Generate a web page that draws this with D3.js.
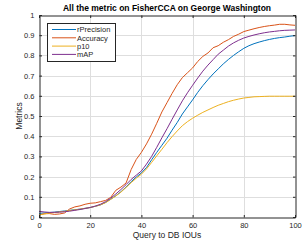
<!DOCTYPE html>
<html>
<head>
<meta charset="utf-8">
<script src="https://cdn.jsdelivr.net/npm/d3@7"></script>
<style>
  body { margin: 0; background: #fff; }
  svg { display: block; font-family: "Liberation Sans", Arial, sans-serif; }
</style>
</head>
<body>
<div id="chart"></div>
<script>
// IoU thresholds (x axis)
var iou = [0, 2, 4, 6, 8, 10, 12, 14, 16, 18, 20, 22, 24, 26, 28, 30, 32, 34, 36, 38, 40,
    42, 44, 46, 48, 50, 52, 54, 56, 58, 60, 62, 64, 66, 68, 70, 72, 74, 76, 78, 80,
    82, 84, 86, 88, 90, 92, 94, 96, 98, 100];

var rPrecision = [0.018, 0.020, 0.022, 0.024, 0.027, 0.030, 0.033, 0.036, 0.039, 0.043, 0.047,
    0.053, 0.060, 0.072, 0.088, 0.105, 0.125, 0.148, 0.175, 0.198, 0.218,
    0.245, 0.283, 0.320, 0.355, 0.390, 0.430, 0.468, 0.510, 0.545, 0.580,
    0.617, 0.650, 0.680, 0.708, 0.733, 0.758, 0.780, 0.800, 0.818, 0.835,
    0.848, 0.858, 0.866, 0.873, 0.879, 0.884, 0.888, 0.891, 0.895, 0.898];

var accuracy = [0.010, 0.016, 0.017, 0.013, 0.015, 0.020, 0.040, 0.050, 0.055, 0.063, 0.068,
    0.070, 0.076, 0.082, 0.097, 0.132, 0.148, 0.168, 0.235, 0.285, 0.320,
    0.362, 0.410, 0.464, 0.520, 0.566, 0.612, 0.655, 0.690, 0.714, 0.738,
    0.770, 0.795, 0.812, 0.838, 0.848, 0.865, 0.878, 0.894, 0.905, 0.918,
    0.925, 0.932, 0.938, 0.943, 0.947, 0.950, 0.954, 0.954, 0.951, 0.949];

var p10 = [0.010, 0.015, 0.020, 0.022, 0.025, 0.028, 0.032, 0.035, 0.039, 0.043, 0.047,
    0.053, 0.060, 0.071, 0.087, 0.104, 0.123, 0.146, 0.170, 0.192, 0.212,
    0.238, 0.270, 0.303, 0.335, 0.368, 0.398, 0.426, 0.452, 0.472, 0.489,
    0.504, 0.518, 0.530, 0.542, 0.553, 0.562, 0.571, 0.578, 0.584, 0.589,
    0.592, 0.595, 0.596, 0.597, 0.598, 0.598, 0.598, 0.598, 0.598, 0.598];

var mAP = [0.028, 0.025, 0.023, 0.023, 0.024, 0.026, 0.029, 0.033, 0.037, 0.042, 0.047,
    0.054, 0.063, 0.076, 0.093, 0.114, 0.136, 0.160, 0.186, 0.207, 0.228,
    0.262, 0.300, 0.345, 0.392, 0.437, 0.484, 0.530, 0.575, 0.615, 0.652,
    0.688, 0.722, 0.752, 0.779, 0.806, 0.826, 0.846, 0.862, 0.875, 0.886,
    0.894, 0.901, 0.907, 0.912, 0.916, 0.919, 0.922, 0.924, 0.925, 0.926];

var seriesNames = ['rPrecision', 'Accuracy', 'p10', 'mAP'];
var seriesValues = [rPrecision, accuracy, p10, mAP];
var seriesColors = ['#0072BD', '#D95319', '#EDB120', '#7E2F8E'];

var xTicks = [0, 20, 40, 60, 80, 100];
var yTicks = [0, 0.1, 0.2, 0.3, 0.4, 0.5, 0.6, 0.7, 0.8, 0.9, 1];

var W = 302, H = 247;
var plotL = 39, plotR = 295, plotT = 15, plotB = 217;
var axisColor = '#262626';

var svg = d3.select('#chart').append('svg')
    .attr('width', W)
    .attr('height', H);

var x = d3.scaleLinear().domain([0, 100]).range([plotL, plotR]);
var y = d3.scaleLinear().domain([0, 1]).range([plotB, plotT]);

// grid
svg.append('g').selectAll('line').data(xTicks.slice(1, -1)).join('line')
    .attr('x1', d => Math.round(x(d)) + 0.5).attr('x2', d => Math.round(x(d)) + 0.5)
    .attr('y1', plotT).attr('y2', plotB)
    .attr('stroke', '#dedede').attr('stroke-width', 1);
svg.append('g').selectAll('line').data(yTicks.slice(1, -1)).join('line')
    .attr('x1', plotL).attr('x2', plotR)
    .attr('y1', d => Math.round(y(d)) + 0.5).attr('y2', d => Math.round(y(d)) + 0.5)
    .attr('stroke', '#dedede').attr('stroke-width', 1);

// lines
var line = d3.line()
    .x((d, i) => x(iou[i]))
    .y(d => y(d));

svg.append('g').selectAll('path').data(seriesValues).join('path')
    .attr('d', d => line(d))
    .attr('fill', 'none')
    .attr('stroke', (d, i) => seriesColors[i])
    .attr('stroke-width', 1);

// axes (ticks inward, box on all sides)
var tickLen = 2.5;
var xAxisB = d3.axisBottom(x).tickValues(xTicks).tickSize(-tickLen).tickPadding(5).tickFormat(d3.format('d'));
var xAxisT = d3.axisTop(x).tickValues(xTicks).tickSize(-tickLen).tickFormat('');
var yAxisL = d3.axisLeft(y).tickValues(yTicks).tickSize(-tickLen).tickPadding(5).tickFormat(d => d === 0 || d === 1 ? d : d3.format('.1f')(d));
var yAxisR = d3.axisRight(y).tickValues(yTicks).tickSize(-tickLen).tickFormat('');

function styleAxis(g) {
    g.select('.domain').attr('stroke', axisColor);
    g.selectAll('.tick line').attr('stroke', axisColor);
    g.selectAll('.tick text').attr('fill', axisColor).style('font-size', '7.5px').style('font-family', '"Liberation Sans", Arial, sans-serif');
}

svg.append('g').attr('transform', 'translate(0,' + (plotB + 0.5) + ')').call(xAxisB).call(styleAxis);
svg.append('g').attr('transform', 'translate(0,' + (plotT + 0.5) + ')').call(xAxisT).call(styleAxis);
svg.append('g').attr('transform', 'translate(' + (plotL + 0.5) + ',0)').call(yAxisL).call(styleAxis);
svg.append('g').attr('transform', 'translate(' + (plotR + 0.5) + ',0)').call(yAxisR).call(styleAxis);

// title and labels
svg.append('text')
    .attr('x', (plotL + plotR) / 2).attr('y', 11)
    .attr('text-anchor', 'middle')
    .style('font-size', '8.5px').style('font-weight', 'bold')
    .attr('fill', '#000')
    .text('All the metric on FisherCCA on George Washington');

svg.append('text')
    .attr('x', (plotL + plotR) / 2).attr('y', 238)
    .attr('text-anchor', 'middle')
    .style('font-size', '8.5px')
    .attr('fill', axisColor)
    .text('Query to DB IOUs');

svg.append('text')
    .attr('transform', 'translate(22,' + ((plotT + plotB) / 2) + ') rotate(-90)')
    .attr('text-anchor', 'middle')
    .style('font-size', '8.5px')
    .attr('fill', axisColor)
    .text('Metrics');

// legend
var legend = svg.append('g').attr('transform', 'translate(47,23)');
legend.append('rect')
    .attr('x', 0.5).attr('y', 0.5)
    .attr('width', 68).attr('height', 38)
    .attr('fill', '#fff')
    .attr('stroke', axisColor).attr('stroke-width', 1);

var rows = legend.selectAll('g.row').data(seriesNames).join('g')
    .attr('class', 'row')
    .attr('transform', (d, i) => 'translate(0,' + (6.5 + i * 8.3) + ')');
rows.append('line')
    .attr('x1', 5).attr('x2', 29)
    .attr('stroke', (d, i) => seriesColors[i]).attr('stroke-width', 1);
rows.append('text')
    .attr('x', 30).attr('y', 2.7)
    .style('font-size', '7.5px')
    .attr('fill', axisColor)
    .text(d => d);
</script>
</body>
</html>
